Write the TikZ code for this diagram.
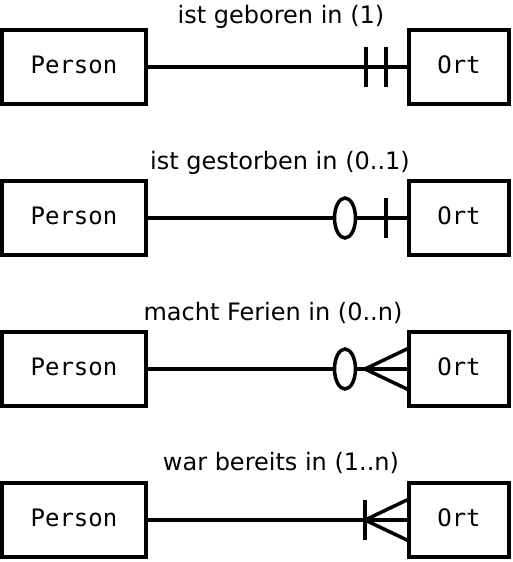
\documentclass[tikz,border=0pt]{standalone}
\usepackage{fontspec}
\setmainfont{DejaVu Sans}
\setmonofont{DejaVu Sans Mono}
\begin{document}
\begin{tikzpicture}[x=1pt,y=-1pt,
  ent/.style={draw, line width=3.5pt, outer sep=0pt, inner sep=0pt,
    minimum height=74pt, text height=18pt, text depth=6pt,
    font=\ttfamily\fontsize{24}{28}\selectfont},
  pers/.style={ent, minimum width=144pt},
  ortbox/.style={ent, minimum width=100pt},
  rel/.style={line width=3.5pt},
  zero/.style={rel, fill=white},
  lab/.style={anchor=base, inner sep=0pt, font=\fontsize{24}{28}\selectfont}]
\useasboundingbox (0,0) rectangle (512,562);

% Row 1: ist geboren in (1)
\node[pers] (p1) at (74,67) {Person};
\node[ortbox] (o1) at (459,67) {Ort};
\node[lab] (l1) at (281,23.3) {ist geboren in (1)};
\draw[rel] (p1) -- (o1);
\draw[rel] ([xshift=-43pt,yshift=20pt]o1.west) -- ([xshift=-43pt,yshift=-20pt]o1.west);
\draw[rel] ([xshift=-23pt,yshift=20pt]o1.west) -- ([xshift=-23pt,yshift=-20pt]o1.west);

% Row 2: ist gestorben in (0..1)
\node[pers] (p2) at (74,218) {Person};
\node[ortbox] (o2) at (459,218) {Ort};
\node[lab] (l2) at (280,169.7) {ist gestorben in (0..1)};
\draw[rel] (p2) -- (o2);
\draw[zero] ([xshift=-64pt]o2.west) ellipse [x radius=10.5, y radius=20];
\draw[rel] ([xshift=-23pt,yshift=20pt]o2.west) -- ([xshift=-23pt,yshift=-20pt]o2.west);

% Row 3: macht Ferien in (0..n)
\node[pers] (p3) at (74,369) {Person};
\node[ortbox] (o3) at (459,369) {Ort};
\node[lab] (l3) at (273,320.3) {macht Ferien in (0..n)};
\draw[rel] (p3) -- (o3);
\draw[zero] ([xshift=-64pt]o3.west) ellipse [x radius=10.5, y radius=20];
\draw[rel] ([yshift=21pt]o3.west) -- ([xshift=-44pt]o3.west) -- ([yshift=-21pt]o3.west);

% Row 4: war bereits in (1..n)
\node[pers] (p4) at (74,520) {Person};
\node[ortbox] (o4) at (459,520) {Ort};
\node[lab] (l4) at (281,470.8) {war bereits in (1..n)};
\draw[rel] (p4) -- (o4);
\draw[rel] ([xshift=-44pt,yshift=20pt]o4.west) -- ([xshift=-44pt,yshift=-20pt]o4.west);
\draw[rel] ([yshift=21pt]o4.west) -- ([xshift=-44pt]o4.west) -- ([yshift=-21pt]o4.west);
\end{tikzpicture}
\end{document}
